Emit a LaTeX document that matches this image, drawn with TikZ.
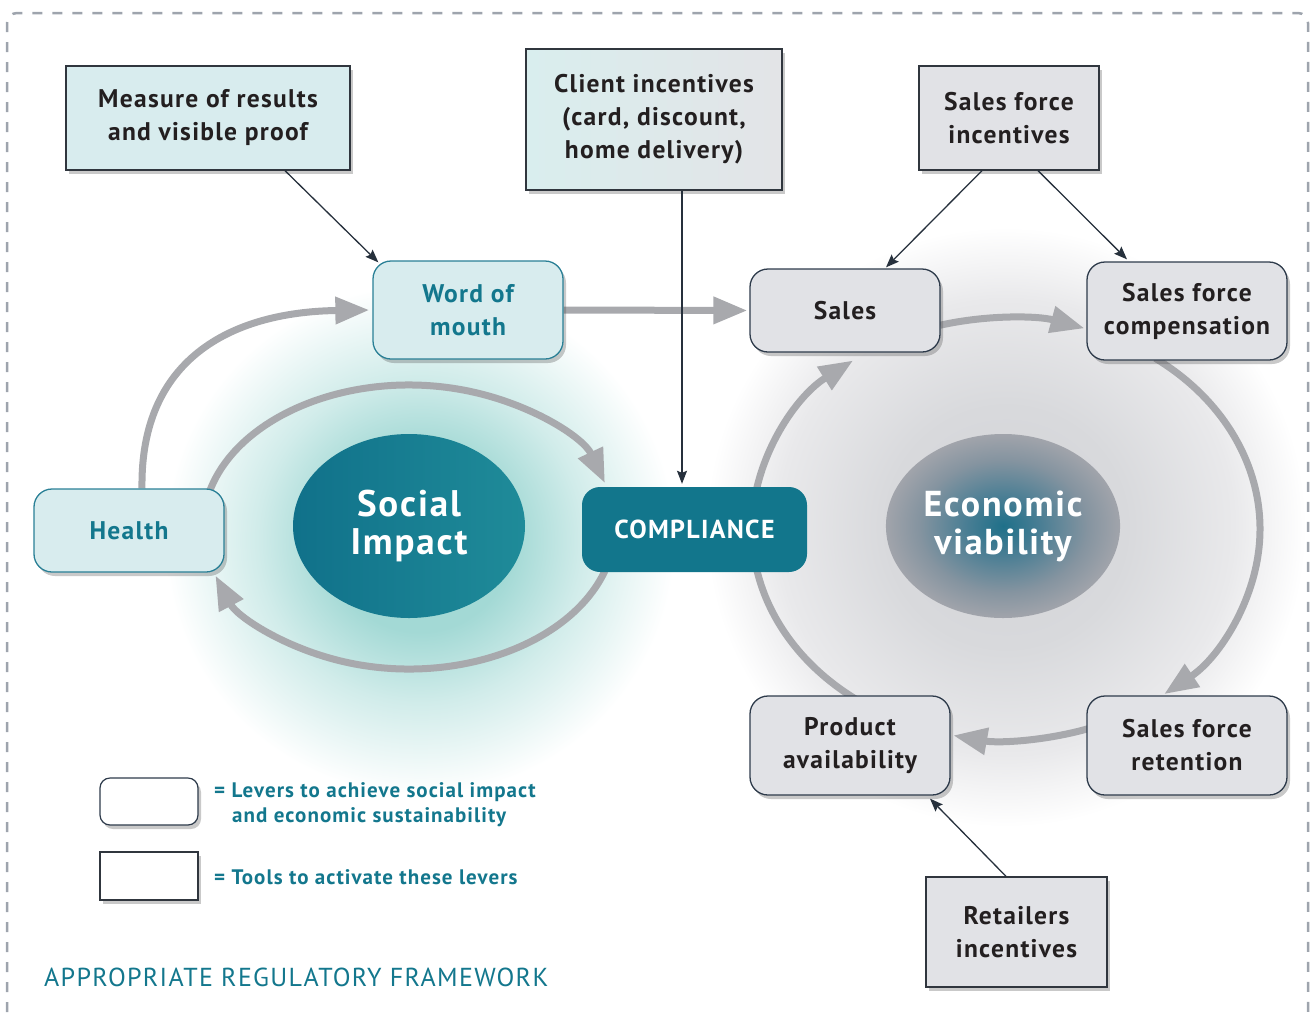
\documentclass[tikz,border=0pt]{standalone}
\usepackage{fontspec}
\setmainfont{PT Sans}[LetterSpace=5]
\usetikzlibrary{arrows.meta,shapes.geometric,shadows,calc}
\definecolor{lteal}{HTML}{D8ECEE}
\definecolor{lgray}{HTML}{E1E2E6}
\definecolor{boxborder}{HTML}{30363E}
\definecolor{navyborder}{HTML}{2E3B4B}
\definecolor{tealborder}{HTML}{2A8096}
\definecolor{tealtxt}{HTML}{13778D}
\definecolor{compfill}{HTML}{12768C}
\definecolor{arrowgray}{HTML}{A8A9AD}
\definecolor{thinc}{HTML}{26303C}
\definecolor{dashgray}{HTML}{9EA4AD}
\definecolor{txt}{HTML}{231F20}
\definecolor{socglowc}{HTML}{A3D9D5}
\definecolor{socA}{HTML}{10718A}
\definecolor{socB}{HTML}{1F8B99}
\definecolor{clA}{HTML}{D9EEEE}
\definecolor{clB}{HTML}{E3E4E7}
\definecolor{egA}{HTML}{D3D4D8}
\definecolor{egB}{HTML}{D8D9DC}
\definecolor{egC}{HTML}{E9E9EB}
\definecolor{ecA}{HTML}{1F7089}
\definecolor{ecB}{HTML}{4A7E94}
\definecolor{ecC}{HTML}{8594A0}
\definecolor{ecD}{HTML}{A1A4AB}
\pgfdeclareradialshading{socglow}{\pgfpoint{0bp}{0bp}}{color(0bp)=(socglowc); color(9bp)=(socglowc); color(16bp)=(socglowc!50!white); color(25bp)=(white); color(50bp)=(white)}
\pgfdeclareradialshading{ecoglow}{\pgfpoint{0bp}{0bp}}{color(0bp)=(egA); color(10bp)=(egB); color(19bp)=(egC); color(25bp)=(white); color(50bp)=(white)}
\pgfdeclareradialshading{econ}{\pgfpoint{0bp}{0bp}}{color(0bp)=(ecA); color(8bp)=(ecB); color(18bp)=(ecC); color(25bp)=(ecD); color(50bp)=(ecD)}
\pgfdeclarelayer{bg}
\pgfsetlayers{bg,main}
\tikzset{
  shadowed/.style={drop shadow={shadow xshift=3pt, shadow yshift=-4pt, opacity=0.3, fill=black!70}},
  boxtext/.style={align=center, font=\fontsize{25.5}{33}\selectfont\bfseries},
  toolbox/.style={rectangle, draw=boxborder, line width=1.3pt, shadowed, boxtext, text=txt},
  leverbox/.style={rectangle, rounded corners=18pt, draw=navyborder, line width=1.3pt, fill=lgray, shadowed, boxtext, text=txt},
  socbox/.style={leverbox, draw=tealborder, fill=lteal, text=tealtxt},
  cyclearrow/.style={draw=arrowgray, line width=7pt, -{Triangle[length=34pt,width=26pt]}},
  toolarrow/.style={draw=thinc, line width=1.3pt, -{Stealth[length=13pt,width=10pt,inset=2pt]}},
  legtext/.style={anchor=base west, inner sep=0pt, text=tealtxt, font=\fontsize{21}{24}\selectfont\bfseries},
}
\begin{document}
\begin{tikzpicture}[x=1pt,y=1pt]
\useasboundingbox (0,0) rectangle (1311,-1012);

\begin{pgfonlayer}{bg}
\shade[shading=ecoglow] (1006,-527) circle (300);
\shade[shading=socglow] (420,-540) circle (255);
\end{pgfonlayer}

\draw[dashgray, line width=2.5pt, dash pattern=on 10pt off 10pt, rounded corners=10pt] (7,-1012) -- (7,-13) -- (1308,-13) -- (1308,-1012);

% central ellipses
\node[ellipse, minimum width=232pt, minimum height=184pt, left color=socA, right color=socB, text=white, align=center, font=\fontsize{37}{38}\selectfont\bfseries] (soc) at (409,-526) {Social\\Impact};
\node[ellipse, minimum width=232pt, minimum height=184pt, shading=econ, text=white, align=center, font=\fontsize{36}{38}\selectfont\bfseries] (eco) at (1003,-526) {Economic\\viability};

% tools
\node[toolbox, fill=lteal, minimum width=284pt, minimum height=104pt] (meas) at (208,-118) {Measure of results\\and visible proof};
\node[toolbox, left color=clA, right color=clB, minimum width=256pt, minimum height=141pt] (client) at (654,-119.5) {Client incentives\\(card, discount,\\home delivery)};
\node[toolbox, fill=lgray, minimum width=180pt, minimum height=104pt] (sfi) at (1009,-118) {Sales force\\incentives};
\node[toolbox, fill=lgray, minimum width=181pt, minimum height=110pt] (retail) at (1016.5,-932) {Retailers\\incentives};

% levers
\node[socbox, minimum width=190pt, minimum height=98pt] (wom) at (468,-310) {Word of\\mouth};
\node[socbox, minimum width=190pt, minimum height=83pt] (health) at (129,-530.5) {Health};
\node[leverbox, minimum width=190pt, minimum height=83pt] (sales) at (845,-310.5) {Sales};
\node[leverbox, minimum width=200pt, minimum height=98pt] (comp) at (1187,-311) {Sales force\\compensation};
\node[leverbox, minimum width=200pt, minimum height=99pt] (prod) at (850,-745.5) {Product\\availability};
\node[leverbox, minimum width=200pt, minimum height=99pt] (ret) at (1187,-745.5) {Sales force\\retention};
\node[rectangle, rounded corners=18pt, fill=compfill, text=white, minimum width=225pt, minimum height=85pt, font=\fontsize{26}{30}\selectfont\bfseries] (compl) at (694.5,-529.5) {COMPLIANCE};

% legend
\node[rectangle, rounded corners=10pt, draw=navyborder, line width=1.2pt, fill=white, shadowed, minimum width=98pt, minimum height=47pt] (leg1) at (149,-801.5) {};
\node[rectangle, draw=boxborder, line width=1.2pt, fill=white, shadowed, minimum width=98pt, minimum height=48pt] (leg2) at (149,-876) {};
\node[legtext] (leg1t) at (214,-797) {= Levers to achieve social impact};
\node[legtext] (leg1u) at (232,-822) {and economic sustainability};
\node[legtext] (leg2t) at (214,-884) {= Tools to activate these levers};
\node[anchor=base west, inner sep=0pt, text=tealtxt, font=\fontsize{26}{30}\selectfont] (frame) at (44,-986) {APPROPRIATE REGULATORY FRAMEWORK};

% cycle arrows
\begin{pgfonlayer}{bg}
\draw[cyclearrow, shorten >=2pt] (wom.east) -- (sales.west);
\draw[cyclearrow, shorten >=3pt] ([xshift=13pt]health.north) .. controls (140,-360) and (230,-312) .. (wom.west);
\coordinate (LC) at (409,-527);
\draw[cyclearrow] ($(LC)+(165:206 and 142)$) arc[start angle=165, end angle=18, x radius=206, y radius=142];
\draw[cyclearrow] ($(LC)+(-18:206 and 142)$) arc[start angle=-18, end angle=-160, x radius=206, y radius=142];
\coordinate (RC) at (1006,-529);
\draw[cyclearrow] ($(RC)+(233.5:254 and 211)$) arc[start angle=233.5, end angle=127, x radius=254, y radius=211];
\draw[cyclearrow] ($(RC)+(105:254 and 211)$) arc[start angle=105, end angle=72, x radius=254, y radius=211];
\draw[cyclearrow] ($(RC)+(54:254 and 211)$) arc[start angle=54, end angle=-51.5, x radius=254, y radius=211];
\draw[cyclearrow] ($(RC)+(-71:254 and 211)$) arc[start angle=-71, end angle=-102, x radius=254, y radius=211];
\end{pgfonlayer}

% tool arrows
\draw[toolarrow] ([xshift=77pt]meas.south) -- ([xshift=6pt,yshift=-2pt]wom.north west);
\draw[toolarrow] ([xshift=28pt]client.south) -- ([xshift=-12.5pt,yshift=3pt]compl.north);
\draw[toolarrow] ([xshift=-27pt]sfi.south) -- ([xshift=41pt,yshift=1pt]sales.north);
\draw[toolarrow] ([xshift=29pt]sfi.south) -- ([xshift=-60pt,yshift=2pt]comp.north);
\draw[toolarrow] ([xshift=-10.5pt]retail.north) -- ([xshift=80pt,yshift=-3pt]prod.south);
\end{tikzpicture}
\end{document}
